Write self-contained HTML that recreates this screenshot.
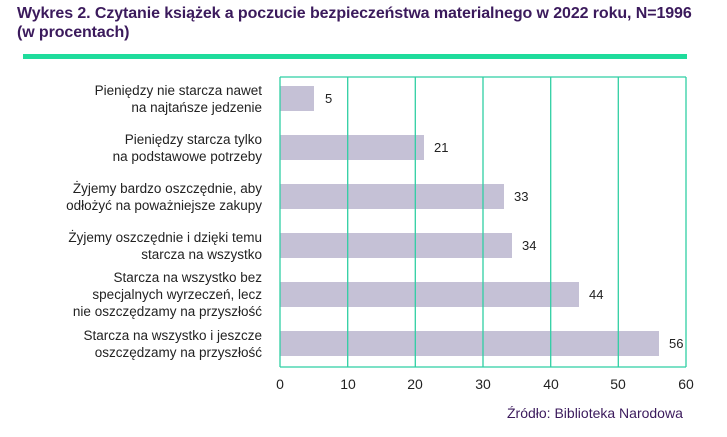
<!DOCTYPE html>
<html><head><meta charset="utf-8"><style>
body{margin:0;width:727px;height:437px;background:#fff;font-family:"Liberation Sans",sans-serif;position:relative;overflow:hidden}
.t{position:absolute;left:17px;top:4px;font-size:16px;font-weight:bold;color:#3b1a5c;line-height:19px;letter-spacing:-0.1px}
.hl{position:absolute;left:23px;top:54px;width:664px;height:5px;background:#1fdc9c}
.lab{position:absolute;right:465px;text-align:right;font-size:13.5px;color:#222;line-height:17px}
.v{position:absolute;font-size:13px;color:#222}
.x{position:absolute;top:376px;font-size:14px;color:#222;width:30px;margin-left:-15px;text-align:center}
.src{position:absolute;left:507px;top:405px;font-size:14px;color:#3b1a5c}
</style></head><body>
<div class="t">Wykres 2. Czytanie książek a poczucie bezpieczeństwa materialnego w 2022 roku, N=1996<br>(w procentach)</div>
<div class="hl"></div>
<svg width="727" height="437" style="position:absolute;left:0;top:0">
<g fill="#c5c1d6">
<rect x="280" y="86" width="34" height="25"/>
<rect x="280" y="135" width="144" height="25"/>
<rect x="280" y="184" width="224" height="25"/>
<rect x="280" y="233" width="232" height="25"/>
<rect x="280" y="282" width="299" height="25"/>
<rect x="280" y="331" width="379" height="25"/>
</g>
<g stroke="#2fcfa3" stroke-width="1.3">
<line x1="280" y1="77" x2="280" y2="367"/><line x1="347.7" y1="77" x2="347.7" y2="367"/>
<line x1="415.3" y1="77" x2="415.3" y2="367"/><line x1="483" y1="77" x2="483" y2="367"/>
<line x1="550.7" y1="77" x2="550.7" y2="367"/><line x1="618.3" y1="77" x2="618.3" y2="367"/>
<line x1="686" y1="77" x2="686" y2="367"/>
<line x1="280" y1="77" x2="686" y2="77"/><line x1="280" y1="367" x2="686" y2="367"/>
</g>
</svg>
<div class="lab" style="top:82px">Pieniędzy nie starcza nawet<br>na najtańsze jedzenie</div>
<div class="lab" style="top:131px">Pieniędzy starcza tylko<br>na podstawowe potrzeby</div>
<div class="lab" style="top:180px">Żyjemy bardzo oszczędnie, aby<br>odłożyć na poważniejsze zakupy</div>
<div class="lab" style="top:229px">Żyjemy oszczędnie i dzięki temu<br>starcza na wszystko</div>
<div class="lab" style="top:269px">Starcza na wszystko bez<br>specjalnych wyrzeczeń, lecz<br>nie oszczędzamy na przyszłość</div>
<div class="lab" style="top:327px">Starcza na wszystko i jeszcze<br>oszczędzamy na przyszłość</div>
<div class="v" style="left:325px;top:91px">5</div>
<div class="v" style="left:434px;top:140px">21</div>
<div class="v" style="left:514px;top:189px">33</div>
<div class="v" style="left:522px;top:238px">34</div>
<div class="v" style="left:589px;top:287px">44</div>
<div class="v" style="left:669px;top:336px">56</div>
<div class="x" style="left:280px">0</div><div class="x" style="left:348px">10</div>
<div class="x" style="left:415px">20</div><div class="x" style="left:483px">30</div>
<div class="x" style="left:551px">40</div><div class="x" style="left:618px">50</div>
<div class="x" style="left:686px">60</div>
<div class="src">Źródło: Biblioteka Narodowa</div>
</body></html>
